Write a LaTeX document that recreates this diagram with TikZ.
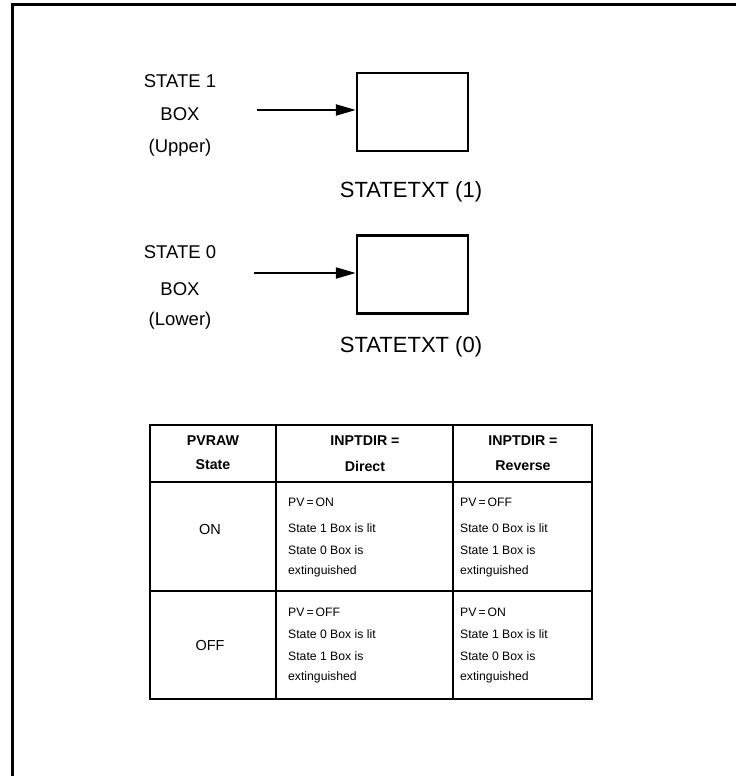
\documentclass[tikz,border=0pt]{standalone}
\usepackage{fontspec}
\setmainfont{Liberation Sans}
\usetikzlibrary{arrows.meta}
\begin{document}
\begin{tikzpicture}[x=1pt,y=-1pt,
  statebox/.style={draw,line width=2.5pt,minimum width=111pt,minimum height=78pt,inner sep=0pt},
  lbl/.style={font=\fontsize{18.5}{22}\selectfont,inner sep=0pt},
  txt/.style={font=\fontsize{22}{26}\selectfont,inner sep=0pt},
  ptr/.style={line width=2.2pt,-{Triangle[length=20pt,width=11pt]}},
  grid/.style={line width=2.5pt},
  hd/.style={font=\bfseries\fontsize{14.2}{17}\selectfont,inner sep=0pt},
  cell/.style={font=\fontsize{12.2}{14}\selectfont,inner sep=0pt,anchor=west},
  mid/.style={font=\fontsize{14.5}{17}\selectfont,inner sep=0pt}]
\useasboundingbox (0,0) rectangle (736,776);
% frame
\draw[line width=3pt,line join=miter] (12.5,776) -- (12.5,5) -- (736,5);
% upper box
\node[statebox] (b1) at (412.5,112) {};
\coordinate (a1) at (257,110);
\draw[ptr] (a1) -- (a1 -| b1.west);
\node[lbl] (s1a) at (180,81) {STATE 1};
\node[lbl] (s1b) at (180,114) {BOX};
\node[lbl] (s1c) at (180,148) {(Upper)};
\node[txt] (t1) at (411,192) {STATETXT (1)};
% lower box
\node[statebox] (b0) at (412.5,274.5) {};
\coordinate (a0) at (254,273);
\draw[ptr] (a0) -- (a0 -| b0.west);
\node[lbl] (s0a) at (180,252) {STATE 0};
\node[lbl] (s0b) at (180,289) {BOX};
\node[lbl] (s0c) at (180,321) {(Lower)};
\node[txt] (t0) at (411,347) {STATETXT (0)};
% table
\draw[grid] (150,425) rectangle (592,699);
\draw[grid] (276,425) -- (276,699);
\draw[grid] (453,425) -- (453,699);
\draw[grid] (150,482) -- (592,482);
\draw[grid] (150,591) -- (592,591);
% header
\node[hd] (h1a) at (213,441) {PVRAW};
\node[hd] (h1b) at (213,465) {State};
\node[hd] (h2a) at (365,441) {INPTDIR =};
\node[hd] (h2b) at (365,466) {Direct};
\node[hd] (h3a) at (523,441) {INPTDIR =};
\node[hd] (h3b) at (523,466) {Reverse};
% row ON
\node[mid] (on) at (210,530) {ON};
\node[cell] (r1c2a) at (288,502) {PV\,=\,ON};
\node[cell] (r1c2b) at (288,528) {State 1 Box is lit};
\node[cell] (r1c2c) at (288,550) {State 0 Box is};
\node[cell] (r1c2d) at (288,571) {extinguished};
\node[cell] (r1c3a) at (460,502) {PV\,=\,OFF};
\node[cell] (r1c3b) at (460,528) {State 0 Box is lit};
\node[cell] (r1c3c) at (460,550) {State 1 Box is};
\node[cell] (r1c3d) at (460,571) {extinguished};
% row OFF
\node[mid] (off) at (210,646) {OFF};
\node[cell] (r2c2a) at (288,612) {PV\,=\,OFF};
\node[cell] (r2c2b) at (288,634) {State 0 Box is lit};
\node[cell] (r2c2c) at (288,656) {State 1 Box is};
\node[cell] (r2c2d) at (288,677) {extinguished};
\node[cell] (r2c3a) at (460,612) {PV\,=\,ON};
\node[cell] (r2c3b) at (460,634) {State 1 Box is lit};
\node[cell] (r2c3c) at (460,656) {State 0 Box is};
\node[cell] (r2c3d) at (460,677) {extinguished};
\end{tikzpicture}
\end{document}
